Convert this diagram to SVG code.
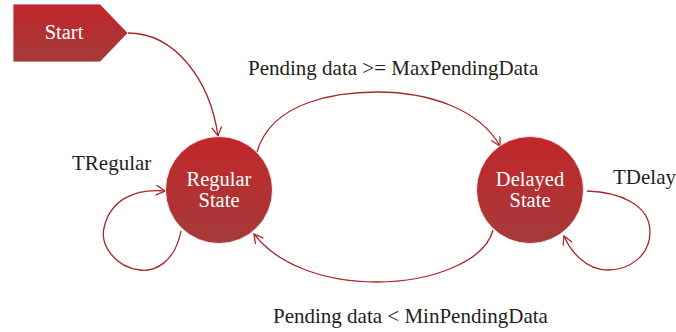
<svg xmlns="http://www.w3.org/2000/svg" width="676" height="332" viewBox="0 0 676 332">
<style>
.lbl{font-family:"Liberation Serif","DejaVu Serif",serif;font-size:21px;fill:#231f20}
.nt{font-family:"Liberation Serif","DejaVu Serif",serif;font-size:20.5px;fill:#ffffff;text-anchor:middle}
.edge{fill:none;stroke:#a8282a;stroke-width:1.3}
.node{fill:url(#g);stroke:#ffffff;stroke-width:0.8}
</style>
<defs>
<linearGradient id="g" x1="0" y1="0" x2="0" y2="1">
<stop offset="0" stop-color="#c1272a"/>
<stop offset="1" stop-color="#a63a3a"/>
</linearGradient>
<marker id="a" markerWidth="14" markerHeight="14" refX="10" refY="5" orient="auto" markerUnits="userSpaceOnUse">
<path d="M1,0 L10,5 L1,10" fill="none" stroke="#a8282a" stroke-width="1.3"/>
</marker>
</defs>
<rect width="676" height="332" fill="#ffffff"/>
<g id="edges">
<path class="edge" d="M128,33 C175,33 210,80 218,136" marker-end="url(#a)"/>
<path class="edge" d="M257,152 C272,100 340,92 377,92 C430,92 480,110 500,146" marker-end="url(#a)"/>
<path class="edge" d="M493,230 C485,262 430,282 377,282 C320,282 275,262 254,234" marker-end="url(#a)"/>
<path class="edge" d="M181,231 C175,262 155,272 140,270 C115,267 100,245 104,228 C110,200 135,188 165,191" marker-end="url(#a)"/>
<path class="edge" d="M587,191 C620,192 650,205 650,232 C650,255 630,270 608,270 C585,270 570,250 564,236" marker-end="url(#a)"/>
</g>
<g id="start">
<polygon class="node" points="13,4 100,4 128,33 100,62 13,62"/>
<text class="nt" x="64" y="39">Start</text>
</g>
<g id="regular">
<circle class="node" cx="219" cy="190" r="53.5"/>
<text class="nt" x="219" y="186">Regular</text>
<text class="nt" x="219" y="207">State</text>
</g>
<g id="delayed">
<circle class="node" cx="530" cy="190" r="53.5"/>
<text class="nt" x="530" y="186">Delayed</text>
<text class="nt" x="530" y="207">State</text>
</g>
<g id="labels">
<text class="lbl" x="248" y="75">Pending data &gt;= MaxPendingData</text>
<text class="lbl" x="72" y="170">TRegular</text>
<text class="lbl" x="613" y="184">TDelay</text>
<text class="lbl" x="273" y="323">Pending data &lt; MinPendingData</text>
</g>
</svg>
